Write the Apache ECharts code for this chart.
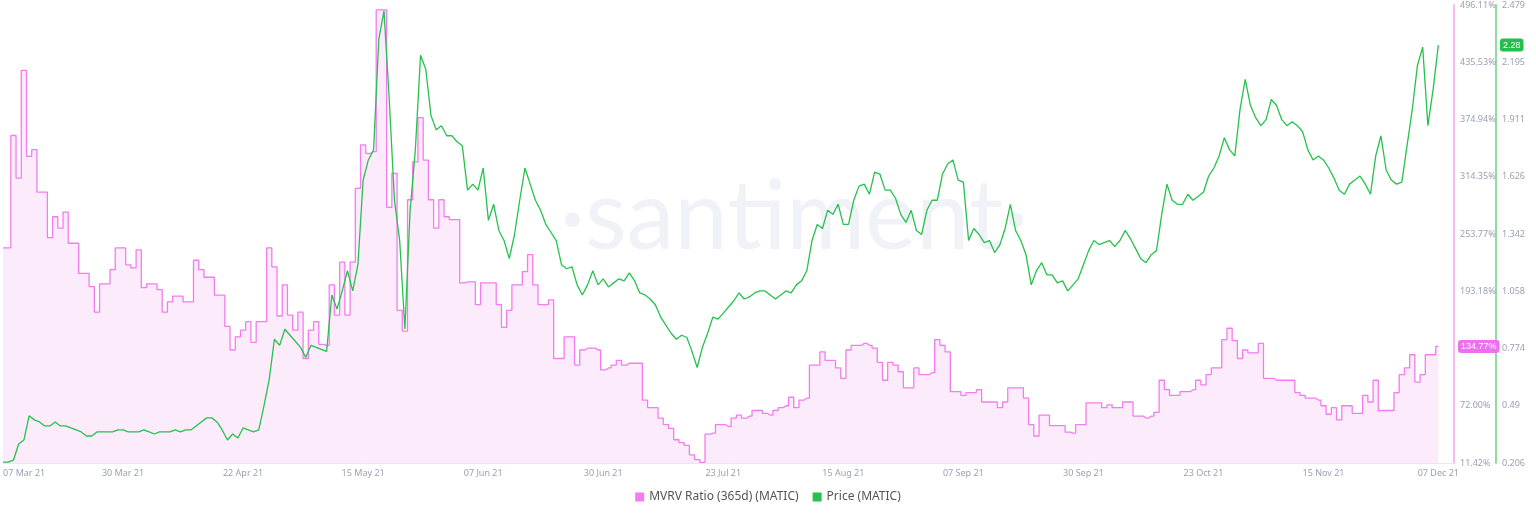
<!DOCTYPE html>
<html><head><meta charset="utf-8">
<script src="https://cdn.jsdelivr.net/npm/echarts@6/dist/echarts.min.js"></script>
<style>html,body{margin:0;padding:0;background:#fff}#c{width:1536px;height:520px}</style>
</head><body><div id="c"></div>
<script>
const startDate = '2021-03-07';
const dayCount = 279;
const mvrv = [239,239,358,313,427,336,343,298,298,250,272,260,277,244,244,212,212,198,171,201,
201,216,239,239,221,218,237,197,201,201,195,171,182,188,188,182,182,226,216,208,
208,189,189,156,131,145,152,161,139,161,161,239,219,167,200,168,152,171,122,152,
161,137,136,200,168,224,168,224,302,348,339,341,491,491,282,318,173,151,290,330,
377,332,290,260,290,272,269,269,202,203,203,179,202,202,202,179,155,173,200,200,
214,232,200,179,179,184,122,122,145,145,115,131,133,133,131,110,112,115,120,115,
117,117,117,78,70,70,59,52,48,36,33,30,20,15,12,42,43,52,52,50,
59,62,59,61,67,67,64,62,67,70,72,81,70,78,80,115,115,129,120,120,
112,101,131,136,136,138,136,133,118,99,118,115,108,91,91,112,105,105,107,142,
136,129,87,87,83,86,86,89,76,76,76,70,76,91,91,91,80,52,40,62,
62,51,51,51,44,43,52,52,75,75,75,70,73,70,70,76,76,61,61,59,
61,65,99,89,83,83,87,87,89,99,94,105,112,112,142,154,141,122,131,128,
128,138,101,101,99,99,99,99,86,83,80,80,78,72,63,70,57,72,72,64,
64,83,76,99,67,67,67,86,105,112,126,97,105,126,126,134.77];
const price = [0.21,0.21,0.22,0.30,0.32,0.44,0.42,0.41,0.39,0.39,0.41,0.39,0.39,0.38,0.37,0.36,0.34,0.34,0.36,0.36,
0.36,0.36,0.37,0.37,0.36,0.36,0.36,0.37,0.36,0.35,0.36,0.36,0.36,0.37,0.36,0.37,0.37,0.39,0.41,0.43,
0.43,0.41,0.37,0.32,0.35,0.33,0.38,0.37,0.36,0.37,0.49,0.62,0.82,0.79,0.87,0.84,0.81,0.78,0.73,0.79,
0.78,0.77,0.76,1.04,0.97,1.06,1.16,1.06,1.19,1.61,1.71,1.76,2.31,2.45,2.01,1.51,1.31,0.87,1.46,1.76,
2.23,2.16,1.93,1.86,1.88,1.83,1.83,1.80,1.78,1.56,1.59,1.56,1.67,1.41,1.49,1.36,1.31,1.22,1.34,1.51,
1.67,1.59,1.51,1.46,1.39,1.35,1.31,1.19,1.17,1.18,1.09,1.04,1.09,1.16,1.09,1.12,1.08,1.10,1.12,1.11,
1.15,1.11,1.05,1.04,1.02,0.99,0.93,0.89,0.85,0.82,0.84,0.83,0.76,0.68,0.78,0.85,0.93,0.92,0.95,0.98,
1.01,1.05,1.02,1.03,1.05,1.06,1.06,1.04,1.02,1.04,1.06,1.05,1.09,1.11,1.16,1.31,1.39,1.37,1.46,1.44,
1.49,1.39,1.39,1.51,1.58,1.59,1.54,1.65,1.64,1.56,1.56,1.52,1.44,1.40,1.46,1.36,1.34,1.46,1.51,1.51,
1.64,1.69,1.71,1.61,1.60,1.31,1.37,1.34,1.30,1.31,1.25,1.29,1.37,1.49,1.36,1.31,1.24,1.09,1.16,1.20,
1.14,1.14,1.10,1.11,1.06,1.09,1.12,1.19,1.26,1.31,1.29,1.30,1.31,1.28,1.31,1.36,1.32,1.27,1.22,1.20,
1.24,1.26,1.44,1.59,1.51,1.49,1.49,1.54,1.51,1.53,1.55,1.63,1.67,1.73,1.82,1.76,1.73,1.96,2.11,1.98,
1.92,1.88,1.91,2.01,1.98,1.91,1.88,1.90,1.88,1.85,1.76,1.71,1.73,1.71,1.67,1.62,1.56,1.54,1.59,1.61,
1.63,1.59,1.54,1.73,1.83,1.66,1.61,1.59,1.60,1.78,1.96,2.18,2.27,1.88,2.06,2.28];
const mvrvTickLabels = ['11.42%','72.00%','134.77%','193.18%','253.77%','314.35%','374.94%','435.53%','496.11%'];
const priceTickLabels = ['0.206','0.49','0.774','1.058','1.342','1.626','1.911','2.195','2.479'];
const mvrvRange = {min:11.42, max:496.11};
const priceRange = {min:0.206, max:2.479};
const months = ['Jan','Feb','Mar','Apr','May','Jun','Jul','Aug','Sep','Oct','Nov','Dec'];

const dates = [];
const d0 = new Date(startDate + 'T00:00:00Z');
for (let i = 0; i < dayCount; i++) {
  const d = new Date(d0.getTime() + i * 86400000);
  dates.push(String(d.getUTCDate()).padStart(2,'0') + ' ' + months[d.getUTCMonth()] + ' ' + String(d.getUTCFullYear()).slice(2));
}
const lastIdx = mvrv.length - 1;
const lblColor = '#9aa1b5';
const mStep = (mvrvRange.max - mvrvRange.min) / 8, pStep = (priceRange.max - priceRange.min) / 8;
const chart = echarts.init(document.getElementById('c'));
chart.setOption({
  animation:false,
  tooltip:{show:false},
  graphic:[{type:'text',left:560,top:170,style:{text:'·santiment·',fontSize:96,fontFamily:'Lato, sans-serif',fill:'#f1f2f8'},z:-1}],
  legend:{bottom:12,left:'center',itemWidth:9,itemHeight:9,icon:'rect',itemGap:14,
    textStyle:{color:'#555',fontSize:12,fontFamily:'Noto Sans'},
    data:['MVRV Ratio (365d) (MATIC)','Price (MATIC)']},
  grid:{left:0,right:82,top:5,bottom:57},
  xAxis:{type:'category',data:dates,boundaryGap:false,
    axisLine:{show:true,lineStyle:{color:'#e6e8ee'}},axisTick:{show:false},
    axisLabel:{color:lblColor,fontSize:9,fontFamily:'Noto Sans',margin:6,
      interval:(i)=> (i%23===0 && i<260) || i===lastIdx, alignMinLabel:'left'}},
  yAxis:[
    {type:'value',position:'right',min:mvrvRange.min,max:mvrvRange.max,interval:mStep,
     splitLine:{show:false},axisLine:{show:true,lineStyle:{color:'#f8b9f4',width:2}},axisTick:{show:false},
     axisLabel:{color:lblColor,fontSize:9,fontFamily:'Noto Sans',margin:6,
       formatter:v=>{const k=Math.round((v-mvrvRange.min)/mStep);return k===2?'':mvrvTickLabels[k];}},
     axisPointer:{show:true,status:'show',value:mvrv[lastIdx],type:'line',lineStyle:{opacity:0},triggerTooltip:false,
       label:{show:true,backgroundColor:'#ee6ff0',color:'#fff',fontSize:9,padding:[2,3],margin:4,formatter:p=>Number(p.value).toFixed(2)+'%'}}},
    {type:'value',position:'right',offset:42,min:priceRange.min,max:priceRange.max,interval:pStep,
     splitLine:{show:false},axisLine:{show:true,lineStyle:{color:'#8fdc9f',width:2}},axisTick:{show:false},
     axisLabel:{color:lblColor,fontSize:9,fontFamily:'Noto Sans',margin:6,
       formatter:v=>priceTickLabels[Math.round((v-priceRange.min)/pStep)]},
     axisPointer:{show:true,status:'show',value:price[lastIdx],type:'line',lineStyle:{opacity:0},triggerTooltip:false,
       label:{show:true,backgroundColor:'#22c04b',color:'#fff',fontSize:9,padding:[2,3],margin:4,formatter:p=>Number(p.value).toFixed(2)}}}
  ],
  axisPointer:{triggerOn:'none'},
  series:[
    {name:'MVRV Ratio (365d) (MATIC)',type:'line',yAxisIndex:0,data:mvrv,step:'middle',symbol:'none',
     lineStyle:{color:'#f47cf0',width:1.3},itemStyle:{color:'#f47cf0'},areaStyle:{color:'#fcebfb',opacity:1}},
    {name:'Price (MATIC)',type:'line',yAxisIndex:1,data:price,symbol:'none',
     lineStyle:{color:'#26c14e',width:1.3},itemStyle:{color:'#26c14e'}}
  ]
});
</script></body></html>
